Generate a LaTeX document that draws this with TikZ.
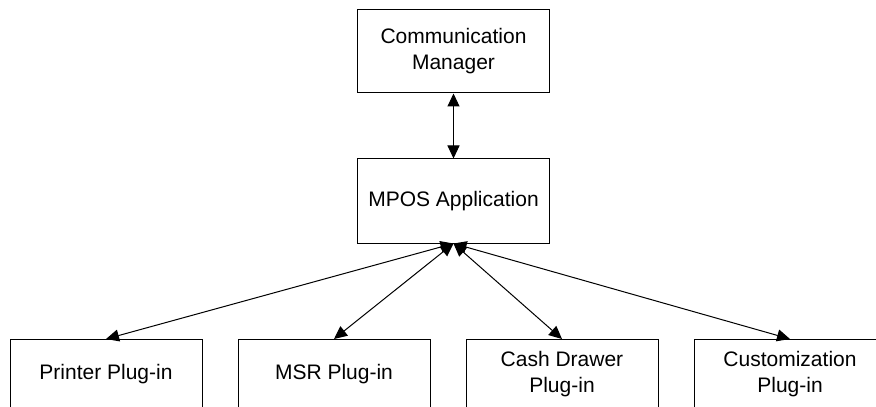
\documentclass[tikz,border=0pt]{standalone}
\usepackage{fontspec}
\setmainfont{Liberation Sans}
\usetikzlibrary{arrows.meta}

\begin{document}
\begin{tikzpicture}[x=0.5pt,y=-0.5pt,
    box/.style={draw,line width=0.5pt,minimum width=96pt,font=\fontsize{10.5}{13}\selectfont},
    link/.style={line width=0.5pt,{Triangle[length=6.5pt,width=6pt]}-{Triangle[length=6.5pt,width=6pt]}}]
            \useasboundingbox (0, 0) rectangle (876, 406);

            \node[box,minimum height=41.5pt] (C) at (453.5, 51.5) { \begin{tabular}{c}Communication\\ Manager\end{tabular} };
            \node[box,minimum height=42pt] (M) at (453.5, 201) { MPOS Application };

            \node[box,anchor=north,minimum height=35pt] (P) at (106, 339) { Printer Plug-in };
            \node[box,anchor=north,minimum height=35pt] (S) at (334, 339) { MSR Plug-in };
            \node[box,anchor=north,minimum height=35pt] (D) at (562, 339) { \begin{tabular}{c}Cash Drawer\\ Plug-in\end{tabular} };
            \node[box,anchor=north,minimum height=35pt] (Z) at (790, 339) { \begin{tabular}{c}Customization\\ Plug-in\end{tabular} };

            \draw[link] (C) to (M);

            \draw[link] (M.south) to (P.north);
            \draw[link] (M.south) to (S.north);
            \draw[link] (M.south) to (D.north);
            \draw[link] (M.south) to (Z.north);
        \end{tikzpicture}
\end{document}
